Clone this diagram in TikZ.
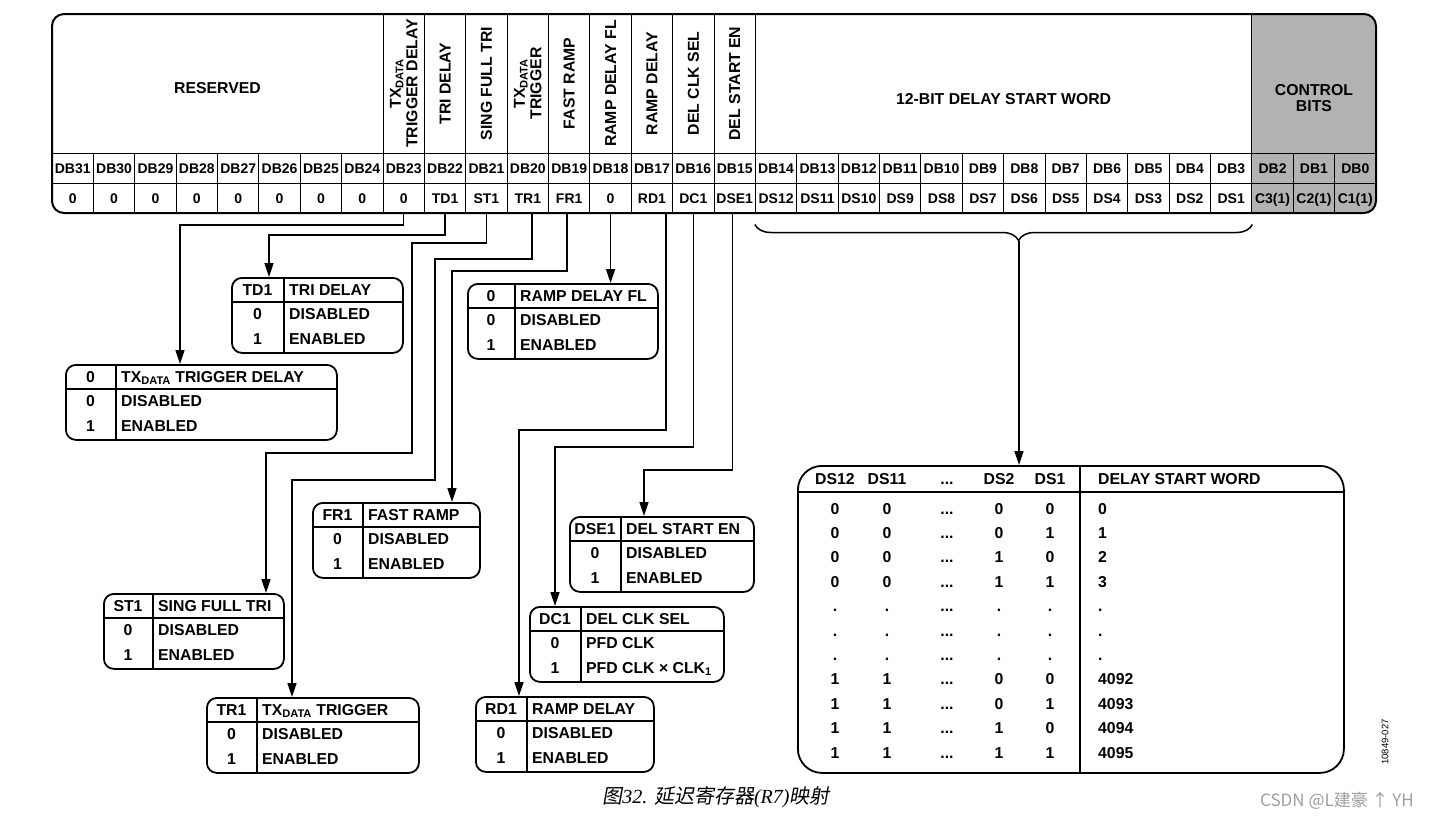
\documentclass[tikz,border=0pt]{standalone}
\usepackage{fontspec}
\setmainfont{Liberation Sans}
\newfontfamily\cjkfont{Noto Sans CJK SC}
\newfontfamily\cjkslant[FakeSlant=0.18]{Noto Sans CJK SC}
\newfontfamily\capfont{Liberation Serif}
\usetikzlibrary{arrows.meta,decorations.pathreplacing}
\definecolor{ctrlgrey}{gray}{0.7}
\definecolor{markgrey}{gray}{0.62}
\newcommand{\skipdots}{...}
\tikzset{
  regframe/.style={ line width=2pt, rounded corners=12pt }
}
\tikzset{
  regcell/.style={ draw, line width=1pt, minimum width=41.375pt, minimum height=30pt, inner sep=0pt,
    text height=10pt, text depth=0pt, font=\bfseries\fontsize{14}{16}\selectfont }
}
\tikzset{
  hdcell/.style={ draw, line width=1pt, minimum height=139pt, inner sep=0pt }
}
\tikzset{
  hdtext/.style={ font=\bfseries\fontsize{15.8}{16.5}\selectfont, align=center, inner sep=0pt },
  vtext/.style={ hdtext, rotate=90 }
}
\tikzset{
  bitframe/.style={ draw, line width=1.8pt, rounded corners=10pt, minimum height=75pt, inner sep=0pt },
  thinrule/.style={ line width=1.2pt },
  bittext/.style={ font=\bfseries\fontsize{15.8}{18}\selectfont, inner sep=0pt, text height=11pt, text depth=0pt },
  bitval/.style={ bittext, anchor=base }
}
\tikzset{
  arr/.style={ -{Triangle[length=14pt,width=9pt]}, line width=1.5pt }
}
% #1 name, #2/#3 top left, #4 width, #5 code column, #6 code, #7 title, #8 row 0, #9 row 1
\newcommand{\bitbox}[9]{%
  \node[bitframe, minimum width=#4pt, anchor=north west] (#1) at (#2,#3) {};
  \draw[thinrule] ([yshift=-25pt]#1.north west) -- ([yshift=-25pt]#1.north east);
  \draw[thinrule] ([xshift=#5pt]#1.north west) -- ([xshift=#5pt]#1.south west);
  \node[bittext] (#1-code) at ([xshift=#5pt/2, yshift=-12.5pt]#1.north west) {#6};
  \node[bittext, anchor=west] (#1-title) at ([xshift=#5pt+5pt, yshift=-12.5pt]#1.north west) {#7};
  \node[bittext] (#1-c0) at ([xshift=#5pt/2, yshift=-37pt]#1.north west) {0};
  \node[bittext, anchor=west] (#1-r0) at ([xshift=#5pt+5pt, yshift=-37pt]#1.north west) {#8};
  \node[bittext] (#1-c1) at ([xshift=#5pt/2, yshift=-61.5pt]#1.north west) {1};
  \node[bittext, anchor=west] (#1-r1) at ([xshift=#5pt+5pt, yshift=-61.5pt]#1.north west) {#9};
}

\begin{document}
\begin{tikzpicture}[x=1pt, y=-1pt]
\useasboundingbox (0,0) rectangle (1432,820);

% register R7
\begin{scope}
  \clip[rounded corners=12pt] (52,14) rectangle (1376,213);
  \fill[ctrlgrey] (1251.875,14) rectangle (1376,213);
  \node[hdcell, minimum width=331pt] (reshd) at (217.5,83.5) {};
  \node[hdcell, minimum width=496.5pt] (dswhd) at (1003.625,83.5) {};
  \node[hdcell, minimum width=124.125pt] (ctrlhd) at (1313.94,83.5) {};
  \foreach \t [count=\i from 8, evaluate=\i as \bit using int(31-\i), evaluate=\i as \cx using 72.6875+41.375*\i] in
    {{TX\textsubscript{DATA}\\TRIGGER DELAY}, TRI DELAY, SING FULL TRI, {TX\textsubscript{DATA}\\TRIGGER},
     FAST RAMP, RAMP DELAY FL, RAMP DELAY, DEL CLK SEL, DEL START EN}
  {
    \node[hdcell, minimum width=41.375pt] (hd\bit) at (\cx,83.5) {};
    \node[vtext] (hdt\bit) at (hd\bit) {\t};
  }
  \foreach \v [count=\i from 0, evaluate=\i as \bit using int(31-\i), evaluate=\i as \cx using 72.6875+41.375*\i] in
    {0,0,0,0,0,0,0,0,0,TD1,ST1,TR1,FR1,0,RD1,DC1,DSE1,
     DS12,DS11,DS10,DS9,DS8,DS7,DS6,DS5,DS4,DS3,DS2,DS1,C3(1),C2(1),C1(1)}
  {
    \node[regcell] (db\bit) at (\cx,168) {DB\bit};
    \node[regcell] (val\bit) at (\cx,198) {\v};
  }
\end{scope}
\draw[regframe] (52,14) rectangle (1376,213);
\node[hdtext] (restxt) at ([yshift=-4.5pt]reshd.center) {RESERVED};
\node[hdtext] (dswtxt) at ([yshift=-15.5pt]dswhd.center) {12-BIT DELAY START WORD};
\node[hdtext] (ctrltxt) at ([yshift=-14.5pt]ctrlhd.center) {CONTROL\\BITS};

% bit tables
\bitbox{td}{231}{277}{171}{53}{TD1}{TRI DELAY}{DISABLED}{ENABLED}
\bitbox{tdd}{65}{364}{271}{51}{0}{TX\textsubscript{DATA} TRIGGER DELAY}{DISABLED}{ENABLED}
\bitbox{rdf}{467}{283}{190}{48}{0}{RAMP DELAY FL}{DISABLED}{ENABLED}
\bitbox{fr}{312}{502}{167}{51}{FR1}{FAST RAMP}{DISABLED}{ENABLED}
\bitbox{dse}{569}{516}{184}{52}{DSE1}{DEL START EN}{DISABLED}{ENABLED}
\bitbox{dc}{529}{606}{194}{52}{DC1}{DEL CLK SEL}{PFD CLK}{PFD CLK × CLK\textsubscript{1}}
\bitbox{st}{103}{593}{180}{50}{ST1}{SING FULL TRI}{DISABLED}{ENABLED}
\bitbox{tr}{206}{697}{212}{51}{TR1}{TX\textsubscript{DATA} TRIGGER}{DISABLED}{ENABLED}
\bitbox{rd}{475}{696}{178}{52}{RD1}{RAMP DELAY}{DISABLED}{ENABLED}

% delay start word table
\node[bitframe, rounded corners=24pt, minimum width=546pt, minimum height=307pt, anchor=north west] (dsw) at (797,465) {};
\draw[thinrule] ([yshift=-27pt]dsw.north west) -- ([yshift=-27pt]dsw.north east);
\draw[thinrule] ([xshift=283pt]dsw.north west) -- ([xshift=283pt]dsw.south west);
\foreach \t/\x [count=\k] in {DS12/835, DS11/887, \skipdots/947, DS2/999, DS1/1050}
  \node[bittext] (dswh\k) at (\x,479) {\t};
\node[bittext, anchor=west] (dswtitle) at (1098,479) {DELAY START WORD};
\foreach \a/\b/\c/\d/\w [count=\k from 0, evaluate=\k as \ry using 514+24.4*\k] in
  {0/0/0/0/0, 0/0/0/1/1, 0/0/1/0/2, 0/0/1/1/3, ./././././., ./././././., ./././././.,
   1/1/0/0/4092, 1/1/0/1/4093, 1/1/1/0/4094, 1/1/1/1/4095}
{
  \node[bitval] (dsw\k a) at (835,\ry) {\a};
  \node[bitval] (dsw\k b) at (887,\ry) {\b};
  \node[bitval] (dsw\k e) at (947,\ry) {\skipdots};
  \node[bitval] (dsw\k c) at (999,\ry) {\c};
  \node[bitval] (dsw\k d) at (1050,\ry) {\d};
  \node[bitval, anchor=base west] (dsw\k w) at (1098,\ry) {\w};
}

% connectors
\coordinate (k23) at (180,225);
\coordinate (k22) at (269,235);
\coordinate (k21a) at (412,243);
\coordinate (k21) at (266,453);
\coordinate (k20a) at (435,259);
\coordinate (k20) at (292,480);
\coordinate (k19) at (452,271);
\coordinate (k17) at (519,430);
\coordinate (k16) at (555,447);
\coordinate (k15) at (644,470);
\draw[arr] (val23.south) |- (k23) -- (k23 |- tdd.north);
\draw[arr] (val22.south) |- (k22) -- (k22 |- td.north);
\draw[arr] (val21.south) |- (k21a) |- (k21) -- (k21 |- st.north);
\draw[arr] ([xshift=4pt]val20.south) |- (k20a) |- (k20) -- (k20 |- tr.north);
\draw[arr] ([xshift=-2pt]val19.south) |- (k19) -- (k19 |- fr.north);
\draw[arr] (val18.south) -- (val18.south |- rdf.north);
\draw[arr] ([xshift=14pt]val17.south) |- (k17) -- (k17 |- rd.north);
\draw[arr] (val16.south) |- (k16) -- (k16 |- dc.north);
\draw[arr] ([xshift=-2pt]val15.south) |- (k15) -- (k15 |- dse.north);

% brace over the delay start word bits
\draw[line width=1.5pt, decorate, decoration={brace, mirror, amplitude=16pt, aspect=0.53}]
  (val14.south west) ++(0,11) coordinate (brl) -- (brl -| val3.south east);
\coordinate (brtip) at (1019,241);
\draw[arr] (brtip) -- (brtip |- dsw.north);

% caption and marks
\node[rotate=90, font=\fontsize{9.5}{10}\selectfont, inner sep=0pt] (figno) at (1385,742) {10849-027};
\node[font=\fontsize{20}{22}\selectfont, inner sep=0pt] (caption) at (716,797)
  {\cjkslant 图\capfont\itshape 32. \cjkslant 延迟寄存器\capfont\itshape (R7)\cjkslant 映射};
\node[font=\cjkfont\fontsize{17}{18}\selectfont, text=markgrey, inner sep=0pt] (mark) at (1337,801) {CSDN @L建豪 ↑ YH};
\end{tikzpicture}
\end{document}
